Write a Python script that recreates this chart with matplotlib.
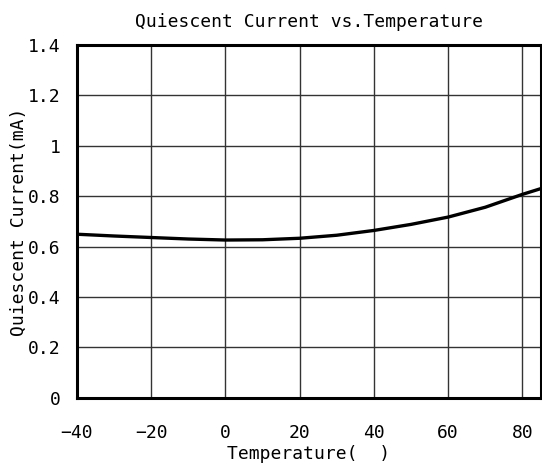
import matplotlib
matplotlib.use("Agg")
import matplotlib.pyplot as plt
import numpy as np

# quiescent current read at each temperature point (deg C, mA)
temperature = [-40, -30, -20, -10, 0, 10, 20, 30, 40, 50, 60, 70, 80, 85]
current_ma = [0.649, 0.642, 0.636, 0.630, 0.626, 0.627, 0.633, 0.645, 0.664, 0.688, 0.717, 0.756, 0.807, 0.830]

x_ticks = [-40, -20, 0, 20, 40, 60, 80]
y_ticks = [0, 0.2, 0.4, 0.6, 0.8, 1.0, 1.2, 1.4]
y_tick_labels = ["0", "0.2", "0.4", "0.6", "0.8", "1", "1.2", "1.4"]

plt.rcParams['font.family'] = ['DejaVu Sans Mono']

fig = plt.figure(figsize=(5.42, 4.72), dpi=100)
ax = fig.add_axes([0.142, 0.157, 0.856, 0.748])

ax.plot(temperature, current_ma, color='black', linewidth=2.4, zorder=3)

ax.set_xlim(-40, 85)
ax.set_ylim(0, 1.4)
ax.set_xticks(x_ticks)
ax.set_yticks(y_ticks)
ax.set_yticklabels(y_tick_labels)
ax.tick_params(length=0, labelsize=13, colors='black')
ax.tick_params(axis='x', pad=19)
ax.tick_params(axis='y', pad=12)
ax.grid(True, color='#333333', linewidth=1.0)
for side in ax.spines.values():
    side.set_linewidth(2.2)
    side.set_zorder(4)

ax.set_title("Quiescent Current vs.Temperature", fontsize=13, pad=13)
ax.set_xlabel("Temperature(  )", fontsize=13, labelpad=2)
ax.set_ylabel("Quiescent Current(mA)", fontsize=13, labelpad=0)

fig.savefig("out.png", dpi=100)
